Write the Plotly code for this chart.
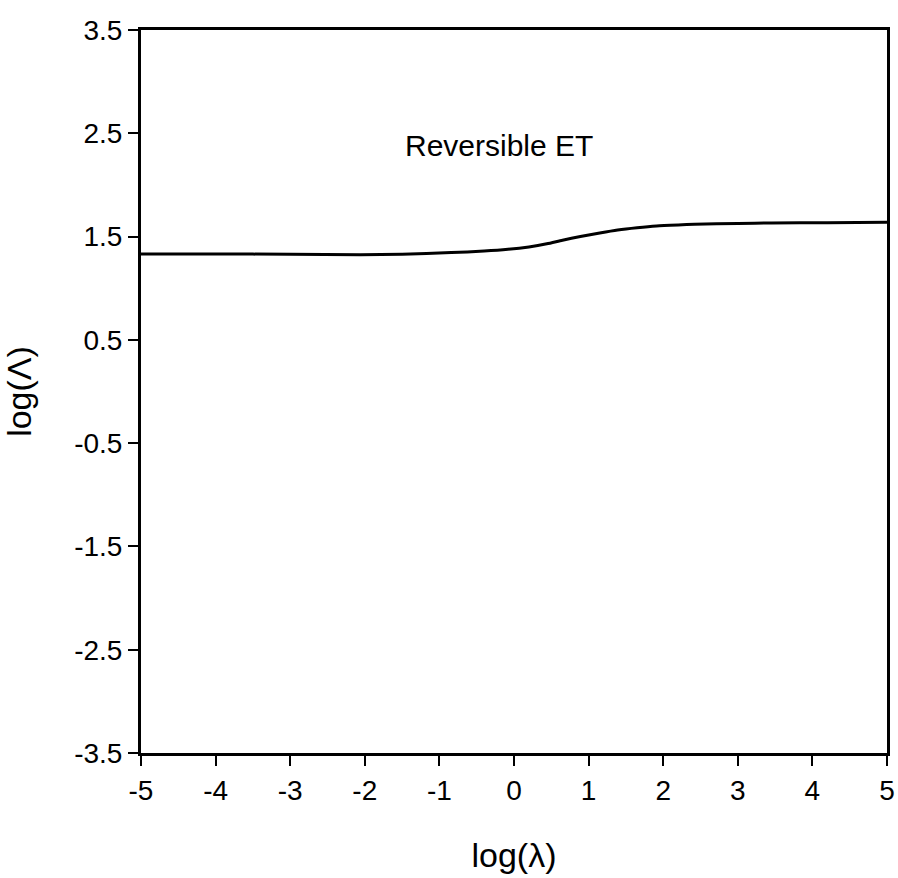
import plotly.graph_objects as go

log_lambda = [-5.0, -4.0, -3.0, -2.06, -1.5, -0.84, -0.4, -0.08, 0.2, 0.44, 0.65, 0.89, 1.15, 1.39, 1.65, 1.91, 2.2, 2.42, 3.0, 3.45, 4.2, 5.0]
log_Lambda = [1.332, 1.331, 1.329, 1.325, 1.330, 1.345, 1.360, 1.377, 1.40, 1.43, 1.465, 1.50, 1.535, 1.564, 1.586, 1.603, 1.613, 1.619, 1.627, 1.632, 1.635, 1.638]

x_ticks = [-5, -4, -3, -2, -1, 0, 1, 2, 3, 4, 5]
x_ticktext = ["-5", "-4", "-3", "-2", "-1", "0", "1", "2", "3", "4", "5"]
y_ticks = [3.5, 2.5, 1.5, 0.5, -0.5, -1.5, -2.5, -3.5]
y_ticktext = ["3.5", "2.5", "1.5", "0.5", "-0.5", "-1.5", "-2.5", "-3.5"]

font = "Liberation Sans, Arial, Helvetica, sans-serif"

fig = go.Figure()
fig.add_trace(go.Scatter(x=log_lambda, y=log_Lambda, mode="lines",
                         line=dict(color="black", width=3, shape="spline", smoothing=0.6),
                         showlegend=False, hoverinfo="skip"))

fig.add_annotation(x=-0.2, y=2.38, text="Reversible ET", showarrow=False,
                   font=dict(family=font, size=30, color="black"))

fig.update_layout(
    width=898, height=878,
    margin=dict(l=141, r=11, t=30, b=125),
    paper_bgcolor="white", plot_bgcolor="white",
    font=dict(family=font, size=28, color="black"),
    showlegend=False,
)
fig.update_xaxes(range=[-5, 5], tickvals=x_ticks, ticktext=x_ticktext, automargin=False,
                 showgrid=False, zeroline=False, showline=True, linecolor="black",
                 linewidth=3, mirror=True, ticks="outside", ticklen=10, tickwidth=2,
                 tickcolor="black", tickfont=dict(size=28),
                 title=dict(text="log(λ)", font=dict(size=34), standoff=39))
fig.update_yaxes(range=[-3.5, 3.5], tickvals=y_ticks, ticktext=y_ticktext, automargin=False,
                 showgrid=False, zeroline=False, showline=True, linecolor="black",
                 linewidth=3, mirror=True, ticks="outside", ticklen=10, tickwidth=2,
                 tickcolor="black", tickfont=dict(size=28),
                 title=dict(text="log(Λ)", font=dict(size=34), standoff=34))

fig.write_html("out.html")
